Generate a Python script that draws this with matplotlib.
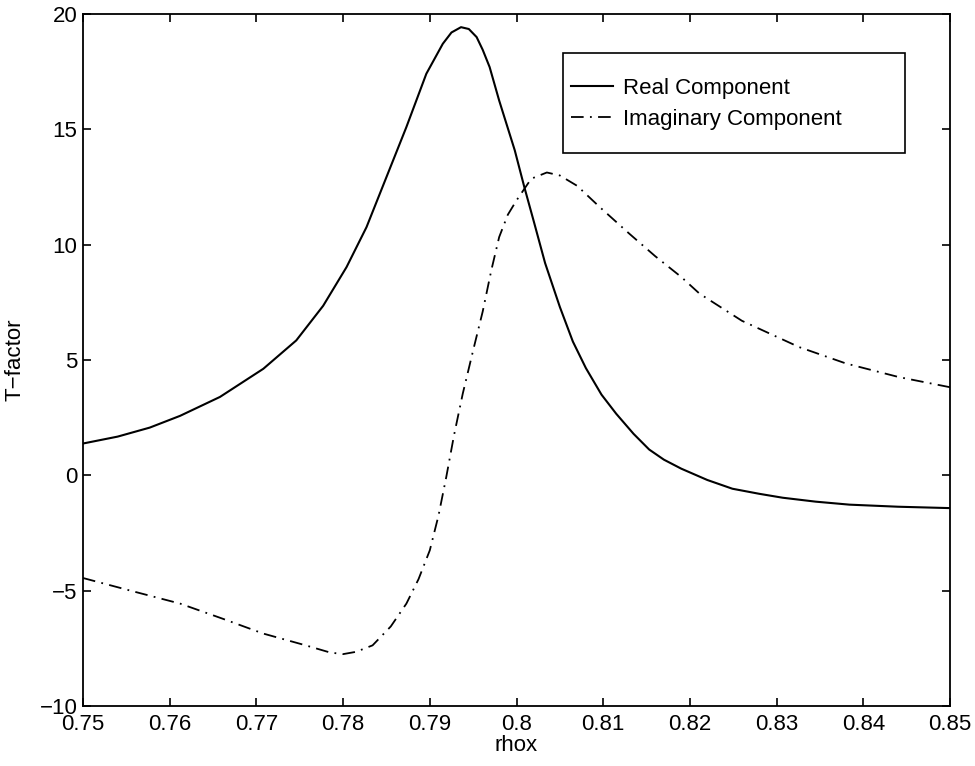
#!/usr/bin/env python3

import matplotlib
matplotlib.use('Agg')
import matplotlib.pyplot as plt
import matplotlib.patches as mpatches

# values
rhox_real = [0.7500, 0.7540, 0.7577, 0.7612, 0.7658, 0.7708, 0.7746, 0.7777, 0.7804, 0.7827,
             0.7850, 0.7873, 0.7896, 0.7915, 0.7925, 0.7936, 0.7945, 0.7954, 0.7961, 0.7969,
             0.7980, 0.7998, 0.8009, 0.8020, 0.8033, 0.8050, 0.8065, 0.8080, 0.8098, 0.8115,
             0.8135, 0.8153, 0.8170, 0.8190, 0.8220, 0.8249, 0.8280, 0.8307, 0.8345, 0.8384,
             0.8440, 0.8500]
t_real = [1.38, 1.68, 2.07, 2.58, 3.40, 4.62, 5.85, 7.35, 9.03, 10.76,
          12.93, 15.10, 17.41, 18.71, 19.2, 19.43, 19.35, 19.0, 18.45, 17.70,
          16.25, 14.09, 12.5, 11.0, 9.2, 7.3, 5.8, 4.65, 3.5, 2.67,
          1.8, 1.12, 0.68, 0.29, -0.20, -0.58, -0.80, -0.97, -1.14, -1.27,
          -1.36, -1.42]

rhox_imag = [0.7500, 0.7510, 0.7560, 0.7612, 0.7660, 0.7708, 0.7755, 0.7785, 0.7800, 0.7815,
             0.7834, 0.7855, 0.7873, 0.7887, 0.7900, 0.7910, 0.7919, 0.7928, 0.7938, 0.7950,
             0.7961, 0.7971, 0.7980, 0.7990, 0.8000, 0.8017, 0.8035, 0.8050, 0.8070, 0.8096,
             0.8130, 0.8160, 0.8190, 0.8211, 0.8260, 0.8326, 0.8380, 0.8441, 0.8500]
t_imag = [-4.45, -4.55, -5.05, -5.56, -6.20, -6.86, -7.35, -7.68, -7.75, -7.65,
          -7.37, -6.55, -5.56, -4.50, -3.25, -1.75, -0.07, 1.75, 3.54, 5.42,
          7.10, 8.90, 10.33, 11.3, 11.92, 12.86, 13.13, 13.0, 12.55, 11.63,
          10.48, 9.5, 8.6, 7.88, 6.7, 5.56, 4.85, 4.26, 3.82]

x_ticks = [0.75, 0.76, 0.77, 0.78, 0.79, 0.80, 0.81, 0.82, 0.83, 0.84, 0.85]
x_tick_labels = ['0.75', '0.76', '0.77', '0.78', '0.79', '0.8', '0.81', '0.82', '0.83', '0.84', '0.85']
y_ticks = [-10, -5, 0, 5, 10, 15, 20]

plt.rcParams['font.family'] = ['Liberation Sans', 'DejaVu Sans']
plt.rcParams['font.size'] = 16

fig = plt.figure(figsize=(9.75, 7.66), dpi=100)
ax = fig.add_axes([0.0851, 0.0783, 0.8893, 0.9034])

ax.plot(rhox_real, t_real, color='black', lw=1.5, label='Real Component')
ax.plot(rhox_imag, t_imag, color='black', lw=1.3, linestyle=(0, (7, 3.5, 1, 3.5)),
        label='Imaginary Component')

ax.set_xlim(0.75, 0.85)
ax.set_ylim(-10, 20)
ax.set_xticks(x_ticks)
ax.set_xticklabels(x_tick_labels)
ax.set_yticks(y_ticks)
ax.tick_params(direction='in', length=6, width=1.2, top=True, right=True)
ax.tick_params(axis='x', pad=6)
ax.tick_params(axis='y', pad=4)
for s in ax.spines.values():
    s.set_linewidth(1.3)

ax.set_xlabel('rhox', labelpad=0)
ax.set_ylabel('T\u2212factor', labelpad=10)

# MATLAB-style legend box: tight on the left, wide on the right
box = mpatches.Rectangle((0.5536, 0.799), 0.3944, 0.1446, transform=ax.transAxes,
                         facecolor='white', edgecolor='black', lw=1.2, zorder=4)
ax.add_patch(box)
leg = ax.legend(loc='upper left', bbox_to_anchor=(0.5625, 0.9075), frameon=False,
                borderpad=0, labelspacing=0.45, handlelength=1.9, handletextpad=0.45,
                borderaxespad=0)
leg.set_zorder(5)

plt.savefig('out.png', dpi=100)
